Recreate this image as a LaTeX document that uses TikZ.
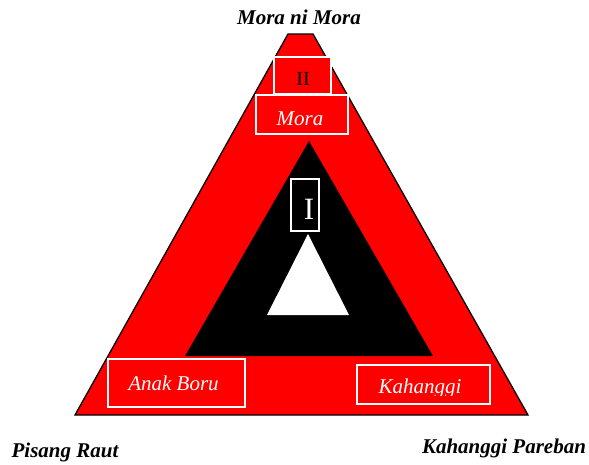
\documentclass[tikz,border=0pt]{standalone}
\usepackage{fontspec}
\setmainfont{Liberation Serif}
\definecolor{tred}{RGB}{255,0,0}
\begin{document}
\begin{tikzpicture}[x=1pt,y=-1pt,
  framebox/.style={draw=white,line width=1.4pt,fill=tred,inner sep=0pt,outer sep=0pt},
  framedark/.style={draw=white,line width=1.4pt,fill=black,inner sep=0pt,outer sep=0pt},
  lbl/.style={anchor=base,inner sep=0pt,font=\fontsize{21}{23}\selectfont\bfseries\itshape},
  boxtxt/.style={anchor=base,inner sep=0pt,text=white,font=\fontsize{21}{23}\selectfont\itshape}]
\useasboundingbox (0,0) rectangle (589,464);
% outer red triangle (top cut flat)
\filldraw[fill=tred,draw=black,line width=1.3pt,line join=miter]
  (75,415) -- (288,34) -- (313,34) -- (528,415) -- cycle;
% inner black triangle
\fill[black] (185,356) -- (309,141) -- (433,356) -- cycle;
% white triangle
\fill[white] (267,315) -- (308,234) -- (349,315) -- cycle;
% boxes
\node[framebox,minimum width=57pt,minimum height=37pt] (box2) at (302.5,75.5) {};
\node[framebox,minimum width=92pt,minimum height=39pt] (boxmora) at (302,114.5) {};
\node[framedark,minimum width=28pt,minimum height=52pt] (box1) at (305,205) {};
\node[framebox,minimum width=137pt,minimum height=48pt] (boxab) at (176.5,383) {};
\node[framebox,minimum width=133pt,minimum height=39pt] (boxk) at (423.5,384.5) {};
% box texts
\node[anchor=base,inner sep=0pt,font=\fontsize{20}{22}\selectfont] (t2) at (303,85) {II};
\node[boxtxt] (tmora) at (300,125) {Mora};
\node[anchor=base,inner sep=0pt,text=white,font=\fontsize{31}{33}\selectfont] (t1) at (309,219) {I};
\node[boxtxt] (tab) at (173.5,390) {Anak Boru};
\begin{scope}
  \clip (358,366) rectangle (489,395);
  \node[boxtxt] (tk) at (420,393) {Kahanggi};
\end{scope}
% outer labels
\node[lbl] (top) at (299,24) {Mora ni Mora};
\node[lbl] (left) at (65,457) {Pisang Raut};
\node[lbl] (right) at (504,453) {Kahanggi Pareban};
\end{tikzpicture}
\end{document}
